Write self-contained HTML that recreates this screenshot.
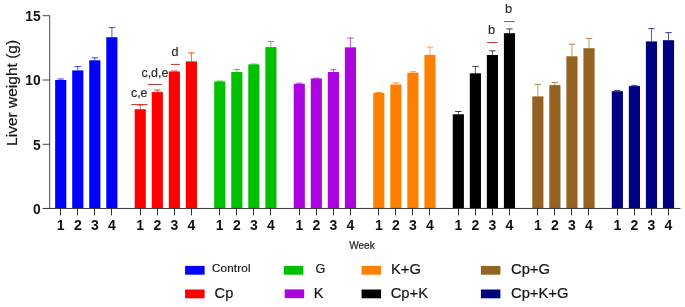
<!DOCTYPE html>
<html><head><meta charset="utf-8"><title>Liver weight</title>
<style>
html,body{margin:0;padding:0;background:#fff;}
body{width:685px;height:307px;overflow:hidden;position:relative;}
svg text{font-family:"Liberation Sans",Arial,sans-serif;}
svg text.t{stroke:#222;stroke-width:0.2px;}
svg text.n{stroke:#222;stroke-width:0.1px;}
</style></head><body>
<svg width="685" height="307" viewBox="0 0 685 307" style="position:absolute;left:0;top:0">
<rect width="685" height="307" fill="#fff"/>
<line x1="60.73" y1="80.00" x2="60.73" y2="79.00" stroke="#0000ff" stroke-width="0.65"/>
<line x1="57.52" y1="79.00" x2="63.93" y2="79.00" stroke="#0000ff" stroke-width="0.75"/>
<rect x="55.15" y="80.00" width="11.15" height="128.20" fill="#0000ff"/>
<line x1="77.78" y1="70.40" x2="77.78" y2="66.60" stroke="#0000ff" stroke-width="0.65"/>
<line x1="74.58" y1="66.60" x2="80.98" y2="66.60" stroke="#0000ff" stroke-width="0.75"/>
<rect x="72.20" y="70.40" width="11.15" height="137.80" fill="#0000ff"/>
<line x1="94.83" y1="60.30" x2="94.83" y2="57.80" stroke="#0000ff" stroke-width="0.65"/>
<line x1="91.62" y1="57.80" x2="98.03" y2="57.80" stroke="#0000ff" stroke-width="0.75"/>
<rect x="89.25" y="60.30" width="11.15" height="147.90" fill="#0000ff"/>
<line x1="111.88" y1="37.20" x2="111.88" y2="27.60" stroke="#0000ff" stroke-width="0.65"/>
<line x1="108.68" y1="27.60" x2="115.08" y2="27.60" stroke="#0000ff" stroke-width="0.75"/>
<rect x="106.30" y="37.20" width="11.15" height="171.00" fill="#0000ff"/>
<line x1="140.24" y1="109.20" x2="140.24" y2="105.00" stroke="#ff0000" stroke-width="0.65"/>
<line x1="137.04" y1="105.00" x2="143.44" y2="105.00" stroke="#ff0000" stroke-width="0.75"/>
<rect x="134.67" y="109.20" width="11.15" height="99.00" fill="#ff0000"/>
<line x1="157.29" y1="92.10" x2="157.29" y2="90.00" stroke="#ff0000" stroke-width="0.65"/>
<line x1="154.09" y1="90.00" x2="160.49" y2="90.00" stroke="#ff0000" stroke-width="0.75"/>
<rect x="151.72" y="92.10" width="11.15" height="116.10" fill="#ff0000"/>
<line x1="174.34" y1="71.50" x2="174.34" y2="71.00" stroke="#ff0000" stroke-width="0.65"/>
<line x1="171.14" y1="71.00" x2="177.54" y2="71.00" stroke="#ff0000" stroke-width="0.75"/>
<rect x="168.77" y="71.50" width="11.15" height="136.70" fill="#ff0000"/>
<line x1="191.39" y1="61.40" x2="191.39" y2="52.90" stroke="#ff0000" stroke-width="0.65"/>
<line x1="188.19" y1="52.90" x2="194.59" y2="52.90" stroke="#ff0000" stroke-width="0.75"/>
<rect x="185.82" y="61.40" width="11.15" height="146.80" fill="#ff0000"/>
<line x1="219.76" y1="81.50" x2="219.76" y2="81.00" stroke="#00c000" stroke-width="0.65"/>
<line x1="216.56" y1="81.00" x2="222.96" y2="81.00" stroke="#00c000" stroke-width="0.75"/>
<rect x="214.19" y="81.50" width="11.15" height="126.70" fill="#00c000"/>
<line x1="236.81" y1="72.00" x2="236.81" y2="69.40" stroke="#00c000" stroke-width="0.65"/>
<line x1="233.62" y1="69.40" x2="240.01" y2="69.40" stroke="#00c000" stroke-width="0.75"/>
<rect x="231.24" y="72.00" width="11.15" height="136.20" fill="#00c000"/>
<line x1="253.86" y1="64.40" x2="253.86" y2="64.00" stroke="#00c000" stroke-width="0.65"/>
<line x1="250.66" y1="64.00" x2="257.06" y2="64.00" stroke="#00c000" stroke-width="0.75"/>
<rect x="248.29" y="64.40" width="11.15" height="143.80" fill="#00c000"/>
<line x1="270.92" y1="47.10" x2="270.92" y2="41.50" stroke="#00c000" stroke-width="0.65"/>
<line x1="267.72" y1="41.50" x2="274.12" y2="41.50" stroke="#00c000" stroke-width="0.75"/>
<rect x="265.34" y="47.10" width="11.15" height="161.10" fill="#00c000"/>
<line x1="299.28" y1="83.80" x2="299.28" y2="83.20" stroke="#ac04e0" stroke-width="0.65"/>
<line x1="296.08" y1="83.20" x2="302.48" y2="83.20" stroke="#ac04e0" stroke-width="0.75"/>
<rect x="293.71" y="83.80" width="11.15" height="124.40" fill="#ac04e0"/>
<line x1="316.33" y1="78.50" x2="316.33" y2="78.20" stroke="#ac04e0" stroke-width="0.65"/>
<line x1="313.13" y1="78.20" x2="319.53" y2="78.20" stroke="#ac04e0" stroke-width="0.75"/>
<rect x="310.76" y="78.50" width="11.15" height="129.70" fill="#ac04e0"/>
<line x1="333.38" y1="72.00" x2="333.38" y2="69.70" stroke="#ac04e0" stroke-width="0.65"/>
<line x1="330.19" y1="69.70" x2="336.58" y2="69.70" stroke="#ac04e0" stroke-width="0.75"/>
<rect x="327.81" y="72.00" width="11.15" height="136.20" fill="#ac04e0"/>
<line x1="350.44" y1="47.30" x2="350.44" y2="38.00" stroke="#ac04e0" stroke-width="0.65"/>
<line x1="347.24" y1="38.00" x2="353.63" y2="38.00" stroke="#ac04e0" stroke-width="0.75"/>
<rect x="344.86" y="47.30" width="11.15" height="160.90" fill="#ac04e0"/>
<line x1="378.80" y1="92.80" x2="378.80" y2="92.50" stroke="#ff8000" stroke-width="0.65"/>
<line x1="375.60" y1="92.50" x2="382.00" y2="92.50" stroke="#ff8000" stroke-width="0.75"/>
<rect x="373.23" y="92.80" width="11.15" height="115.40" fill="#ff8000"/>
<line x1="395.85" y1="84.50" x2="395.85" y2="82.80" stroke="#ff8000" stroke-width="0.65"/>
<line x1="392.65" y1="82.80" x2="399.05" y2="82.80" stroke="#ff8000" stroke-width="0.75"/>
<rect x="390.28" y="84.50" width="11.15" height="123.70" fill="#ff8000"/>
<line x1="412.90" y1="72.70" x2="412.90" y2="71.70" stroke="#ff8000" stroke-width="0.65"/>
<line x1="409.70" y1="71.70" x2="416.10" y2="71.70" stroke="#ff8000" stroke-width="0.75"/>
<rect x="407.33" y="72.70" width="11.15" height="135.50" fill="#ff8000"/>
<line x1="429.95" y1="54.90" x2="429.95" y2="47.10" stroke="#ff8000" stroke-width="0.65"/>
<line x1="426.75" y1="47.10" x2="433.15" y2="47.10" stroke="#ff8000" stroke-width="0.75"/>
<rect x="424.38" y="54.90" width="11.15" height="153.30" fill="#ff8000"/>
<line x1="458.32" y1="114.30" x2="458.32" y2="111.50" stroke="#000000" stroke-width="0.65"/>
<line x1="455.12" y1="111.50" x2="461.52" y2="111.50" stroke="#000000" stroke-width="0.75"/>
<rect x="452.75" y="114.30" width="11.15" height="93.90" fill="#000000"/>
<line x1="475.37" y1="73.30" x2="475.37" y2="66.40" stroke="#000000" stroke-width="0.65"/>
<line x1="472.17" y1="66.40" x2="478.57" y2="66.40" stroke="#000000" stroke-width="0.75"/>
<rect x="469.80" y="73.30" width="11.15" height="134.90" fill="#000000"/>
<line x1="492.42" y1="55.00" x2="492.42" y2="50.80" stroke="#000000" stroke-width="0.65"/>
<line x1="489.22" y1="50.80" x2="495.62" y2="50.80" stroke="#000000" stroke-width="0.75"/>
<rect x="486.85" y="55.00" width="11.15" height="153.20" fill="#000000"/>
<line x1="509.47" y1="33.20" x2="509.47" y2="28.90" stroke="#000000" stroke-width="0.65"/>
<line x1="506.27" y1="28.90" x2="512.67" y2="28.90" stroke="#000000" stroke-width="0.75"/>
<rect x="503.90" y="33.20" width="11.15" height="175.00" fill="#000000"/>
<line x1="537.85" y1="96.40" x2="537.85" y2="84.40" stroke="#946322" stroke-width="0.65"/>
<line x1="534.64" y1="84.40" x2="541.05" y2="84.40" stroke="#946322" stroke-width="0.75"/>
<rect x="532.27" y="96.40" width="11.15" height="111.80" fill="#946322"/>
<line x1="554.89" y1="85.10" x2="554.89" y2="82.60" stroke="#946322" stroke-width="0.65"/>
<line x1="551.69" y1="82.60" x2="558.10" y2="82.60" stroke="#946322" stroke-width="0.75"/>
<rect x="549.32" y="85.10" width="11.15" height="123.10" fill="#946322"/>
<line x1="571.95" y1="56.30" x2="571.95" y2="44.20" stroke="#946322" stroke-width="0.65"/>
<line x1="568.75" y1="44.20" x2="575.15" y2="44.20" stroke="#946322" stroke-width="0.75"/>
<rect x="566.37" y="56.30" width="11.15" height="151.90" fill="#946322"/>
<line x1="589.00" y1="48.20" x2="589.00" y2="38.40" stroke="#946322" stroke-width="0.65"/>
<line x1="585.79" y1="38.40" x2="592.20" y2="38.40" stroke="#946322" stroke-width="0.75"/>
<rect x="583.42" y="48.20" width="11.15" height="160.00" fill="#946322"/>
<line x1="617.37" y1="91.20" x2="617.37" y2="90.40" stroke="#000080" stroke-width="0.65"/>
<line x1="614.16" y1="90.40" x2="620.57" y2="90.40" stroke="#000080" stroke-width="0.75"/>
<rect x="611.79" y="91.20" width="11.15" height="117.00" fill="#000080"/>
<line x1="634.41" y1="86.10" x2="634.41" y2="85.40" stroke="#000080" stroke-width="0.65"/>
<line x1="631.21" y1="85.40" x2="637.62" y2="85.40" stroke="#000080" stroke-width="0.75"/>
<rect x="628.84" y="86.10" width="11.15" height="122.10" fill="#000080"/>
<line x1="651.47" y1="41.40" x2="651.47" y2="28.60" stroke="#000080" stroke-width="0.65"/>
<line x1="648.26" y1="28.60" x2="654.67" y2="28.60" stroke="#000080" stroke-width="0.75"/>
<rect x="645.89" y="41.40" width="11.15" height="166.80" fill="#000080"/>
<line x1="668.51" y1="40.20" x2="668.51" y2="32.60" stroke="#000080" stroke-width="0.65"/>
<line x1="665.31" y1="32.60" x2="671.72" y2="32.60" stroke="#000080" stroke-width="0.75"/>
<rect x="662.94" y="40.20" width="11.15" height="168.00" fill="#000080"/>
<line x1="49.7" y1="15.3" x2="49.7" y2="208.7" stroke="#333333" stroke-width="0.9"/>
<line x1="42.6" y1="208.45" x2="680.5" y2="208.45" stroke="#333333" stroke-width="1"/>
<line x1="42.6" y1="15.7" x2="49.7" y2="15.7" stroke="#333333" stroke-width="0.9"/>
<text x="40.6" y="21.0" text-anchor="end" font-size="13.8" font-weight="bold" fill="#111">15</text>
<line x1="42.6" y1="80" x2="49.7" y2="80" stroke="#333333" stroke-width="0.9"/>
<text x="40.6" y="85.3" text-anchor="end" font-size="13.8" font-weight="bold" fill="#111">10</text>
<line x1="42.6" y1="144.3" x2="49.7" y2="144.3" stroke="#333333" stroke-width="0.9"/>
<text x="40.6" y="149.6" text-anchor="end" font-size="13.8" font-weight="bold" fill="#111">5</text>
<text x="40.6" y="213.6" text-anchor="end" font-size="13.8" font-weight="bold" fill="#111">0</text>
<line x1="60.50" y1="208.2" x2="60.50" y2="215.4" stroke="#333333" stroke-width="1"/>
<text x="60.73" y="229.8" text-anchor="middle" font-size="14" font-weight="bold" fill="#111">1</text>
<line x1="77.50" y1="208.2" x2="77.50" y2="215.4" stroke="#333333" stroke-width="1"/>
<text x="77.78" y="229.8" text-anchor="middle" font-size="14" font-weight="bold" fill="#111">2</text>
<line x1="94.50" y1="208.2" x2="94.50" y2="215.4" stroke="#333333" stroke-width="1"/>
<text x="94.83" y="229.8" text-anchor="middle" font-size="14" font-weight="bold" fill="#111">3</text>
<line x1="111.50" y1="208.2" x2="111.50" y2="215.4" stroke="#333333" stroke-width="1"/>
<text x="111.88" y="229.8" text-anchor="middle" font-size="14" font-weight="bold" fill="#111">4</text>
<line x1="140.50" y1="208.2" x2="140.50" y2="215.4" stroke="#333333" stroke-width="1"/>
<text x="140.24" y="229.8" text-anchor="middle" font-size="14" font-weight="bold" fill="#111">1</text>
<line x1="157.50" y1="208.2" x2="157.50" y2="215.4" stroke="#333333" stroke-width="1"/>
<text x="157.29" y="229.8" text-anchor="middle" font-size="14" font-weight="bold" fill="#111">2</text>
<line x1="174.50" y1="208.2" x2="174.50" y2="215.4" stroke="#333333" stroke-width="1"/>
<text x="174.34" y="229.8" text-anchor="middle" font-size="14" font-weight="bold" fill="#111">3</text>
<line x1="191.50" y1="208.2" x2="191.50" y2="215.4" stroke="#333333" stroke-width="1"/>
<text x="191.39" y="229.8" text-anchor="middle" font-size="14" font-weight="bold" fill="#111">4</text>
<line x1="219.50" y1="208.2" x2="219.50" y2="215.4" stroke="#333333" stroke-width="1"/>
<text x="219.76" y="229.8" text-anchor="middle" font-size="14" font-weight="bold" fill="#111">1</text>
<line x1="236.50" y1="208.2" x2="236.50" y2="215.4" stroke="#333333" stroke-width="1"/>
<text x="236.81" y="229.8" text-anchor="middle" font-size="14" font-weight="bold" fill="#111">2</text>
<line x1="253.50" y1="208.2" x2="253.50" y2="215.4" stroke="#333333" stroke-width="1"/>
<text x="253.86" y="229.8" text-anchor="middle" font-size="14" font-weight="bold" fill="#111">3</text>
<line x1="270.50" y1="208.2" x2="270.50" y2="215.4" stroke="#333333" stroke-width="1"/>
<text x="270.92" y="229.8" text-anchor="middle" font-size="14" font-weight="bold" fill="#111">4</text>
<line x1="299.50" y1="208.2" x2="299.50" y2="215.4" stroke="#333333" stroke-width="1"/>
<text x="299.28" y="229.8" text-anchor="middle" font-size="14" font-weight="bold" fill="#111">1</text>
<line x1="316.50" y1="208.2" x2="316.50" y2="215.4" stroke="#333333" stroke-width="1"/>
<text x="316.33" y="229.8" text-anchor="middle" font-size="14" font-weight="bold" fill="#111">2</text>
<line x1="333.50" y1="208.2" x2="333.50" y2="215.4" stroke="#333333" stroke-width="1"/>
<text x="333.38" y="229.8" text-anchor="middle" font-size="14" font-weight="bold" fill="#111">3</text>
<line x1="350.50" y1="208.2" x2="350.50" y2="215.4" stroke="#333333" stroke-width="1"/>
<text x="350.44" y="229.8" text-anchor="middle" font-size="14" font-weight="bold" fill="#111">4</text>
<line x1="378.50" y1="208.2" x2="378.50" y2="215.4" stroke="#333333" stroke-width="1"/>
<text x="378.80" y="229.8" text-anchor="middle" font-size="14" font-weight="bold" fill="#111">1</text>
<line x1="395.50" y1="208.2" x2="395.50" y2="215.4" stroke="#333333" stroke-width="1"/>
<text x="395.85" y="229.8" text-anchor="middle" font-size="14" font-weight="bold" fill="#111">2</text>
<line x1="412.50" y1="208.2" x2="412.50" y2="215.4" stroke="#333333" stroke-width="1"/>
<text x="412.90" y="229.8" text-anchor="middle" font-size="14" font-weight="bold" fill="#111">3</text>
<line x1="429.50" y1="208.2" x2="429.50" y2="215.4" stroke="#333333" stroke-width="1"/>
<text x="429.95" y="229.8" text-anchor="middle" font-size="14" font-weight="bold" fill="#111">4</text>
<line x1="458.50" y1="208.2" x2="458.50" y2="215.4" stroke="#333333" stroke-width="1"/>
<text x="458.32" y="229.8" text-anchor="middle" font-size="14" font-weight="bold" fill="#111">1</text>
<line x1="475.50" y1="208.2" x2="475.50" y2="215.4" stroke="#333333" stroke-width="1"/>
<text x="475.37" y="229.8" text-anchor="middle" font-size="14" font-weight="bold" fill="#111">2</text>
<line x1="492.50" y1="208.2" x2="492.50" y2="215.4" stroke="#333333" stroke-width="1"/>
<text x="492.42" y="229.8" text-anchor="middle" font-size="14" font-weight="bold" fill="#111">3</text>
<line x1="509.50" y1="208.2" x2="509.50" y2="215.4" stroke="#333333" stroke-width="1"/>
<text x="509.47" y="229.8" text-anchor="middle" font-size="14" font-weight="bold" fill="#111">4</text>
<line x1="537.50" y1="208.2" x2="537.50" y2="215.4" stroke="#333333" stroke-width="1"/>
<text x="537.85" y="229.8" text-anchor="middle" font-size="14" font-weight="bold" fill="#111">1</text>
<line x1="554.50" y1="208.2" x2="554.50" y2="215.4" stroke="#333333" stroke-width="1"/>
<text x="554.89" y="229.8" text-anchor="middle" font-size="14" font-weight="bold" fill="#111">2</text>
<line x1="571.50" y1="208.2" x2="571.50" y2="215.4" stroke="#333333" stroke-width="1"/>
<text x="571.95" y="229.8" text-anchor="middle" font-size="14" font-weight="bold" fill="#111">3</text>
<line x1="588.50" y1="208.2" x2="588.50" y2="215.4" stroke="#333333" stroke-width="1"/>
<text x="589.00" y="229.8" text-anchor="middle" font-size="14" font-weight="bold" fill="#111">4</text>
<line x1="617.50" y1="208.2" x2="617.50" y2="215.4" stroke="#333333" stroke-width="1"/>
<text x="617.37" y="229.8" text-anchor="middle" font-size="14" font-weight="bold" fill="#111">1</text>
<line x1="634.50" y1="208.2" x2="634.50" y2="215.4" stroke="#333333" stroke-width="1"/>
<text x="634.41" y="229.8" text-anchor="middle" font-size="14" font-weight="bold" fill="#111">2</text>
<line x1="651.50" y1="208.2" x2="651.50" y2="215.4" stroke="#333333" stroke-width="1"/>
<text x="651.47" y="229.8" text-anchor="middle" font-size="14" font-weight="bold" fill="#111">3</text>
<line x1="668.50" y1="208.2" x2="668.50" y2="215.4" stroke="#333333" stroke-width="1"/>
<text x="668.51" y="229.8" text-anchor="middle" font-size="14" font-weight="bold" fill="#111">4</text>
<text class="t" transform="translate(16.6,92.9) rotate(-90)" text-anchor="middle" font-size="15.5" fill="#111">Liver weight (g)</text>
<text class="t" x="349.3" y="249.2" font-size="10" fill="#222">Week</text>
<line x1="131.3" y1="104.6" x2="147.6" y2="104.6" stroke="#b83a3a" stroke-width="1"/>
<line x1="148.2" y1="84.5" x2="161.8" y2="84.5" stroke="#b83a3a" stroke-width="1"/>
<line x1="170.9" y1="64.4" x2="179.9" y2="64.4" stroke="#b83a3a" stroke-width="1"/>
<line x1="487.1" y1="42.5" x2="497.6" y2="42.5" stroke="#b83a3a" stroke-width="1"/>
<line x1="504.1" y1="21.6" x2="514.7" y2="21.6" stroke="#b83a3a" stroke-width="1"/>
<text class="n" x="130.9" y="96.8" font-size="12.5" fill="#222">c,e</text>
<text class="n" x="141.4" y="77" font-size="12.5" fill="#222">c,d,e</text>
<text class="n" x="171.5" y="56.4" font-size="12.6" fill="#222">d</text>
<text class="n" x="487.9" y="33.9" font-size="12.8" fill="#222">b</text>
<text class="n" x="505.0" y="13.3" font-size="12.8" fill="#222">b</text>
<rect x="185.1" y="265.9" width="19.5" height="8.8" fill="#0000ff"/>
<text class="t" x="212.0" y="272.2" font-size="11.6" letter-spacing="0.2" fill="#111">Control</text>
<rect x="185.1" y="289.5" width="19.5" height="8.8" fill="#ff0000"/>
<text class="t" x="214.6" y="298.0" font-size="14.6" fill="#111">Cp</text>
<rect x="283.8" y="265.9" width="19.5" height="8.8" fill="#00c000"/>
<text class="t" x="315.5" y="273.2" font-size="12.6" fill="#111">G</text>
<rect x="284.7" y="289.4" width="19.5" height="8.8" fill="#ac04e0"/>
<text class="t" x="313.7" y="297.9" font-size="14.6" fill="#111">K</text>
<rect x="361.6" y="265.9" width="19.5" height="8.8" fill="#ff8000"/>
<text class="t" x="391.0" y="274.4" font-size="14.75" fill="#111">K+G</text>
<rect x="361.6" y="289.5" width="19.5" height="8.8" fill="#000000"/>
<text class="t" x="390.7" y="298.0" font-size="14.75" fill="#111">Cp+K</text>
<rect x="480.9" y="265.9" width="19.5" height="8.8" fill="#946322"/>
<text class="t" x="511.0" y="274.4" font-size="14.75" fill="#111">Cp+G</text>
<rect x="480.9" y="289.5" width="19.5" height="8.8" fill="#000080"/>
<text class="t" x="511.0" y="298.2" font-size="14.75" fill="#111">Cp+K+G</text>
</svg>
</body></html>
